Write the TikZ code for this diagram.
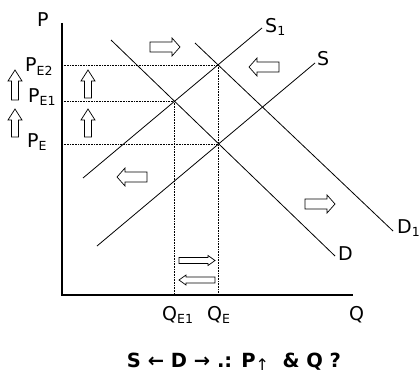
\documentclass[tikz,border=0pt]{standalone}
\usepackage{fontspec}
\setmainfont{DejaVu Sans}
\begin{document}
\begin{tikzpicture}[x=1pt,y=-1pt,
  curve/.style={line width=0.8pt},
  axis/.style={line width=1.4pt},
  guide/.style={densely dotted,line width=0.6pt},
  lbl/.style={inner sep=0pt,anchor=base west,font=\fontsize{19}{19}\selectfont},
  boxarrow/.style={draw,fill=white,line width=0.7pt},
  pics/blockarrow/.style n args={4}{code={
    \draw[boxarrow] (-#1,-#2) -- (#1-#4,-#2) -- (#1-#4,-#3) -- (#1,0)
      -- (#1-#4,#3) -- (#1-#4,#2) -- (-#1,#2) -- cycle;}}]
\newcommand\lowsub[1]{\raisebox{-3pt}{\fontsize{12.5}{12.5}\selectfont #1}}
\useasboundingbox (0,0) rectangle (419,377);

% axes
\coordinate (top) at (62,23);
\coordinate (O) at (62,295);
\coordinate (right) at (353,295);
\draw[axis] (top) -- (O) -- (right);

% curves
\coordinate (S1a) at (83,178);  \coordinate (S1b) at (262,28);
\coordinate (Sa) at (97,246);   \coordinate (Sb) at (315,63);
\coordinate (D1a) at (195,43);  \coordinate (D1b) at (393,231);
\coordinate (Da) at (111,40);   \coordinate (Db) at (335,256);
\draw[curve] (S1a) -- (S1b);
\draw[curve] (Sa) -- (Sb);
\draw[curve] (D1a) -- (D1b);
\draw[curve] (Da) -- (Db);

% equilibria
\coordinate (E2) at (218,65);
\coordinate (E1) at (174,101);
\coordinate (E) at (218,144);
\coordinate (pE2) at (62,65);
\coordinate (pE1) at (62,101);
\coordinate (pE) at (62,144);
\coordinate (qE1) at (174,295);
\coordinate (qE) at (218,295);
\draw[guide] (pE2) -- (E2);
\draw[guide] (pE1) -- (E1);
\draw[guide] (pE) -- (E);
\draw[guide] (E1) -- (qE1);
\draw[guide] (E2) -- (qE);

% labels
\node[lbl] (P) at (37,27) {P};
\node[lbl] (PE2) at (25,72) {P\lowsub{E2}};
\node[lbl] (PE1) at (28,102) {P\lowsub{E1}};
\node[lbl] (PE) at (27,147) {P\lowsub{E}};
\node[lbl] (QE1) at (162,320) {Q\lowsub{E1}};
\node[lbl] (QE) at (207,320) {Q\lowsub{E}};
\node[lbl] (Q) at (349,320) {Q};
\node[lbl] (S1) at (265,33) {S\lowsub{1}};
\node[lbl] (S) at (317,66) {S};
\node[lbl] (D1) at (397,233) {D\lowsub{1}};
\node[lbl] (D) at (338,260) {D};

% hollow arrows
\pic at (165,47) {blockarrow={15}{5}{9}{8}};
\pic[rotate=180] at (264,67) {blockarrow={15}{5}{9}{8}};
\pic[rotate=180] at (132,177) {blockarrow={15}{5}{9}{8}};
\pic at (320,204) {blockarrow={15}{5}{9}{8}};
\pic[rotate=90] at (15,85) {blockarrow={15}{3.5}{7}{11}};
\pic[rotate=90] at (15,123) {blockarrow={14}{3.5}{7}{11}};
\pic[rotate=90] at (88,84) {blockarrow={14}{3.5}{7}{11}};
\pic[rotate=90] at (88,123) {blockarrow={14}{3.5}{7}{11}};
\pic at (197,260.5) {blockarrow={18}{3}{5}{7}};
\pic[rotate=180] at (197,280) {blockarrow={18}{3}{5}{7}};

% caption
\node[inner sep=0pt,anchor=base] (cap) at (234,367)
  {\fontsize{19.5}{19.5}\selectfont\bfseries S ← D → .: P{\mdseries\fontsize{16}{16}\selectfont\raisebox{-3pt}{↑}}\ \ \& Q ?};
\end{tikzpicture}
\end{document}
